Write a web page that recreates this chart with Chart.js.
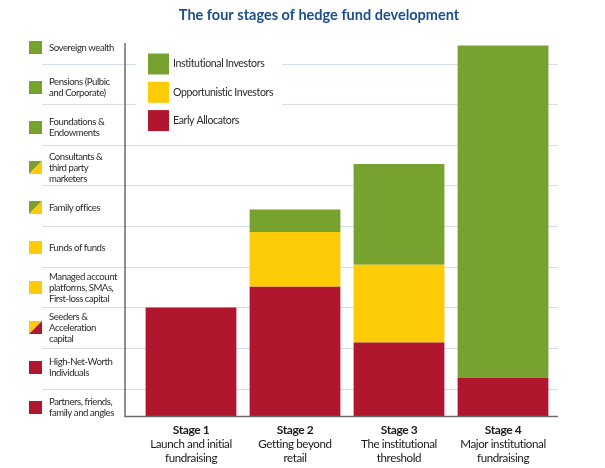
<!DOCTYPE html>
<html>
<head>
<meta charset="utf-8">
<script src="https://cdn.jsdelivr.net/npm/chart.js@4.4.1/dist/chart.umd.min.js"></script>
<style>
  html, body { margin: 0; padding: 0; background: #ffffff; }
  #wrap { width: 605px; height: 468px; position: relative; }
</style>
</head>
<body>
<div id="wrap"><canvas id="c" width="605" height="468"></canvas></div>
<script>
// ---------- data ----------
const chartTitle = 'The four stages of hedge fund development';
const categories = ['Stage 1', 'Stage 2', 'Stage 3', 'Stage 4'];
const stageDescriptions = [
  ['Launch and initial', 'fundraising'],
  ['Getting beyond', 'retail'],
  ['The institutional', 'threshold'],
  ['Major institutional', 'fundraising']
];
const seriesNames = ['Early Allocators', 'Opportunistic Investors', 'Institutional Investors'];
const earlyAllocators = [26.7, 31.8, 18.1, 9.4];
const opportunisticInvestors = [0, 13.5, 19.1, 0];
const institutionalInvestors = [0, 5.5, 24.8, 81.8];
const investorTypes = [
  ['Sovereign wealth'],
  ['Pensions (Pulbic', 'and Corporate)'],
  ['Foundations &', 'Endowments'],
  ['Consultants &', 'third party', 'marketers'],
  ['Family offices'],
  ['Funds of funds'],
  ['Managed account', 'platforms, SMAs,', 'First-loss capital'],
  ['Seeders &', 'Acceleration', 'capital'],
  ['High-Net-Worth', 'Individuals'],
  ['Partners, friends,', 'family and angles']
];
// which investor series each type belongs to (index into seriesNames)
const investorTypeSeries = [[2], [2], [2], [2, 1], [2, 1], [1], [1], [1, 0], [0], [0]];
const gridValues = [6.75, 16.75, 26.75, 36.75, 46.75, 56.75, 66.75, 76.75, 86.75];
const yMax = 91.8;

// ---------- styles ----------
const COLORS = ['#b1162f', '#fecb07', '#78a22f'];
const FONT = 'Lato, "Open Sans", sans-serif';

const decorPlugin = {
  id: 'decor',
  beforeDraw(chart) {
    // slightly tighter text for axis labels (narrow humanist look)
    chart.ctx.letterSpacing = '-0.4px';
  },
  beforeDatasetsDraw(chart) {
    const ctx = chart.ctx;
    const y = chart.scales.y;
    ctx.save();
    ctx.strokeStyle = '#d3dde7';
    ctx.lineWidth = 1;
    gridValues.forEach(v => {
      const py = Math.round(y.getPixelForValue(v)) + 0.5;
      ctx.beginPath();
      if (py < 140) {
        ctx.moveTo(42, py); ctx.lineTo(136, py);
        ctx.moveTo(282, py); ctx.lineTo(558, py);
      } else {
        ctx.moveTo(42, py); ctx.lineTo(558, py);
      }
      ctx.stroke();
    });
    ctx.restore();
  },
  afterDatasetsDraw(chart) {
    const ctx = chart.ctx;
    const y = chart.scales.y;
    const area = chart.chartArea;
    ctx.save();
    // axis lines
    ctx.strokeStyle = '#6b6b6b';
    ctx.lineWidth = 1.5;
    ctx.beginPath();
    ctx.moveTo(125, y.getPixelForValue(yMax));
    ctx.lineTo(125, y.getPixelForValue(0) + 0.5);
    ctx.lineTo(558, y.getPixelForValue(0) + 0.5);
    ctx.stroke();

    // title
    ctx.letterSpacing = '0px';
    ctx.fillStyle = '#1b4f8c';
    ctx.font = 'bold 14.5px ' + FONT;
    ctx.textAlign = 'center';
    ctx.textBaseline = 'middle';
    ctx.fillText(chartTitle, 319, 15);

    // left panel: investor types
    const lineH = 11;
    ctx.letterSpacing = '-0.45px';
    ctx.font = '9.6px ' + FONT;
    ctx.textAlign = 'left';
    investorTypes.forEach((lines, i) => {
      const cy = area.top + 4.5 + 40 * i;
      const s = investorTypeSeries[i];
      const x0 = 29, y0 = Math.round(cy - 6.5), sz = 13;
      if (s.length === 1) {
        ctx.fillStyle = COLORS[s[0]];
        ctx.fillRect(x0, y0, sz, sz);
      } else {
        ctx.fillStyle = COLORS[s[0]];
        ctx.beginPath();
        ctx.moveTo(x0, y0); ctx.lineTo(x0 + sz, y0); ctx.lineTo(x0, y0 + sz); ctx.closePath();
        ctx.fill();
        ctx.fillStyle = COLORS[s[1]];
        ctx.beginPath();
        ctx.moveTo(x0 + sz, y0); ctx.lineTo(x0 + sz, y0 + sz); ctx.lineTo(x0, y0 + sz); ctx.closePath();
        ctx.fill();
      }
      ctx.fillStyle = '#2b2b2b';
      const startY = cy - (lines.length - 1) * lineH / 2;
      lines.forEach((t, k) => ctx.fillText(t, 49, startY + k * lineH));
    });

    // legend (top to bottom: institutional, opportunistic, early)
    ctx.letterSpacing = '-0.4px';
    ctx.font = '10.6px ' + FONT;
    const ds = chart.data.datasets.slice().reverse();
    ds.forEach((d, k) => {
      const top = 53.5 + k * 28.3;
      ctx.fillStyle = d.backgroundColor;
      ctx.fillRect(148, top, 21, 21);
      ctx.fillStyle = '#2b2b2b';
      ctx.fillText(d.label, 173, top + 10.5);
    });
    ctx.restore();
  }
};

new Chart(document.getElementById('c'), {
  type: 'bar',
  data: {
    labels: categories,
    datasets: [
      { label: seriesNames[0], data: earlyAllocators, backgroundColor: COLORS[0] },
      { label: seriesNames[1], data: opportunisticInvestors, backgroundColor: COLORS[1] },
      { label: seriesNames[2], data: institutionalInvestors, backgroundColor: COLORS[2] }
    ]
  },
  options: {
    responsive: false,
    animation: false,
    devicePixelRatio: 1,
    layout: { padding: { left: 139, right: 50, top: 43, bottom: 0 } },
    datasets: { bar: { barPercentage: 0.873, categoryPercentage: 1, borderWidth: 0 } },
    plugins: { legend: { display: false }, title: { display: false }, tooltip: { enabled: false } },
    scales: {
      y: { stacked: true, min: 0, max: yMax, display: false },
      x: {
        stacked: true,
        position: 'bottom',
        grid: { display: false, drawTicks: false, tickLength: 0 },
        border: { display: false },
        ticks: { color: '#1a1a1a', font: { family: FONT, size: 12, weight: 'bold' }, padding: 7, maxRotation: 0, autoSkip: false },
        afterFit(s) { s.height = 20; }
      },
      x2: {
        type: 'category',
        labels: stageDescriptions,
        offset: true,
        position: 'bottom',
        grid: { display: false, drawTicks: false, tickLength: 0 },
        border: { display: false },
        ticks: { color: '#1a1a1a', font: { family: FONT, size: 11.6, lineHeight: 1.15 }, padding: 2, maxRotation: 0, autoSkip: false },
        afterFit(s) { s.height = 32; }
      }
    }
  },
  plugins: [decorPlugin]
});
</script>
</body>
</html>
